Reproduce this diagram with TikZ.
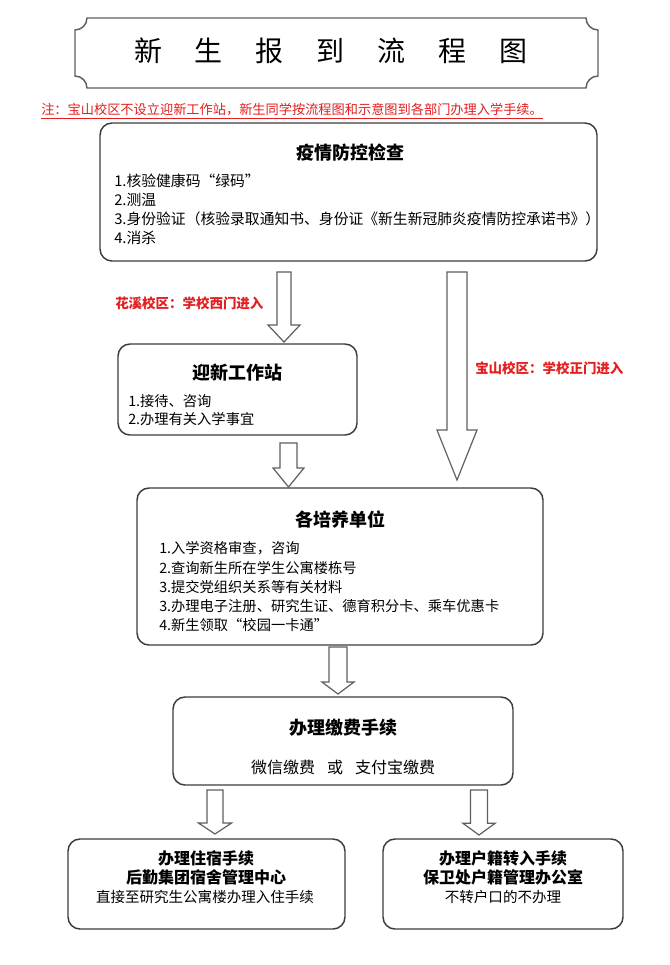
\documentclass[tikz,border=0pt]{standalone}
\usepackage{fontspec}
\setmainfont{Noto Sans CJK SC}
\usetikzlibrary{calc}
\definecolor{edge}{RGB}{60,60,60}
\definecolor{arr}{RGB}{95,95,95}
\definecolor{redtxt}{RGB}{228,30,30}
\newcommand\fs[2]{\fontsize{#1}{#2}\selectfont}
% start coordinate, tip coordinate, half shaft width, half head width, head length
\newcommand\blockarrow[5]{%
  \draw[arrowstyle] let \p1=(#1), \p2=(#2) in
    ({\x1-#3},{\y1}) -- ({\x1+#3},{\y1}) -- ({\x1+#3},{\y2+#5}) -- ({\x1+#4},{\y2+#5})
    -- (\x2,\y2) -- ({\x1-#4},{\y2+#5}) -- ({\x1-#3},{\y2+#5}) -- cycle;}
\tikzset{
  box/.style={draw=edge, line width=1.1pt, rounded corners=9pt, fill=white, inner sep=0pt},
  hd/.style={font=\fs{13.5}{16}\bfseries, inner sep=0pt},
  ln/.style={font=\fs{10.7}{13}, inner sep=0pt, anchor=west},
  lnw/.style={font=\fs{11.1}{13}, inner sep=0pt, anchor=west},
  bl/.style={font=\fs{12}{14}\bfseries, inner sep=0pt},
  nl/.style={font=\fs{10.9}{13}, inner sep=0pt},
  arrowstyle/.style={draw=arr, line width=0.9pt, fill=white, line join=miter},
  redlab/.style={font=\fs{10.1}{12}\bfseries, text=redtxt, inner sep=0pt, anchor=west},
  frame/.style={draw=arr, line width=1.1pt, fill=white}
}
\begin{document}
\begin{tikzpicture}[x=0.75pt, y=-0.75pt]
\fill[white] (0,0) rectangle (669,965);
\useasboundingbox (0,0) rectangle (669,965);

% title plaque with concave corners
\draw[frame] (87,18) -- (586,18) .. controls (586,24.6) and (591.4,30) .. (598,30)
  -- (598,76) .. controls (591.4,76) and (586,81.4) .. (586,88)
  -- (87,88) .. controls (87,81.4) and (81.6,76) .. (75,76)
  -- (75,30) .. controls (81.6,30) and (87,24.6) .. (87,18) -- cycle;
\node[font=\fs{21}{24}, inner sep=0pt] (title) at (331,51)
  {新\hspace{24.75pt}生\hspace{24.75pt}报\hspace{24.75pt}到\hspace{24.75pt}流\hspace{24.75pt}程\hspace{24.75pt}图};

% red note
\node[font=\fs{9.9}{12}, text=redtxt, inner sep=0pt, anchor=west] (note) at (41,110)
  {注：宝山校区不设立迎新工作站，新生同学按流程图和示意图到各部门办理入学手续。};
\draw[redtxt, line width=0.6pt] ([yshift=-1pt]note.south west) -- ([yshift=-1pt]note.south east);

% boxes
\node[box, minimum width=372.75pt, minimum height=103.5pt] (b1) at (348.5,192) {};
\node[box, minimum width=179.25pt, minimum height=68.25pt] (b2) at (237.5,389.5) {};
\node[box, minimum width=304.5pt, minimum height=117.75pt] (b3) at (340,566.5) {};
\node[box, minimum width=255pt, minimum height=66pt] (b4) at (343,741) {};
\node[box, minimum width=207.75pt, minimum height=67.5pt] (b5) at (206.5,884) {};
\node[box, minimum width=180pt, minimum height=67.5pt] (b6) at (503,884) {};

% box 1
\node[hd] (h1) at (350,153) {疫情防控检查};
\node[lnw] (l11) at (114,181) {1.核验健康码“绿码”};
\node[lnw] (l12) at (114,200) {2.测温};
\node[lnw] (l13) at (114,219) {3.身份验证（核验录取通知书、身份证《新生新冠肺炎疫情防控承诺书》）};
\node[lnw] (l14) at (114,238) {4.消杀};

% box 2
\node[hd] (h2) at (237,373) {迎新工作站};
\node[ln] (l21) at (128,401) {1.接待、咨询};
\node[ln] (l22) at (128,419) {2.办理有关入学事宜};

% box 3
\node[hd] (h3) at (340,520) {各培养单位};
\node[ln] (l31) at (159,548) {1.入学资格审查，咨询};
\node[ln] (l32) at (159,568) {2.查询新生所在学生公寓楼栋号};
\node[ln] (l33) at (159,587) {3.提交党组织关系等有关材料};
\node[ln] (l34) at (159,606) {3.办理电子注册、研究生证、德育积分卡、乘车优惠卡};
\node[ln] (l35) at (159,625) {4.新生领取“校园一卡通”};

% box 4
\node[hd] (h4) at (343,728) {办理缴费手续};
\node[font=\fs{12}{14}, inner sep=0pt] (l41) at (343,767) {微信缴费\hspace{9pt}或\hspace{9pt}支付宝缴费};

% box 5
\node[bl] (h5a) at (206,858) {办理住宿手续};
\node[bl] (h5b) at (206,877) {后勤集团宿舍管理中心};
\node[nl] (l51) at (205,897) {直接至研究生公寓楼办理入住手续};

% box 6
\node[bl] (h6a) at (503,858) {办理户籍转入手续};
\node[bl] (h6b) at (503,877) {保卫处户籍管理办公室};
\node[nl] (l61) at (503,897) {不转户口的不办理};

% red labels
\node[redlab] (r1) at (115,303) {花溪校区：学校西门进入};
\node[redlab] (r2) at (475,368) {宝山校区：学校正门进入};

% block arrows
\coordinate (a1s) at (284,272);   \coordinate (a1e) at (284,342);
\coordinate (a2s) at (457,272);   \coordinate (a2e) at (457,480);
\coordinate (a3s) at (288.5,443); \coordinate (a3e) at (288.5,487);
\coordinate (a4s) at (338,647);   \coordinate (a4e) at (338,694);
\coordinate (a5s) at (215,790);   \coordinate (a5e) at (215,834);
\coordinate (a6s) at (479,790);   \coordinate (a6e) at (479,835);
\blockarrow{a1s}{a1e}{5.25pt}{12pt}{12.75pt}
\blockarrow{a2s}{a2e}{7.5pt}{15pt}{37.5pt}
\blockarrow{a3s}{a3e}{6.4pt}{11.6pt}{14.25pt}
\blockarrow{a4s}{a4e}{6.75pt}{12pt}{9pt}
\blockarrow{a5s}{a5e}{6pt}{12.4pt}{8.25pt}
\blockarrow{a6s}{a6e}{6.4pt}{12pt}{8.75pt}
\end{tikzpicture}
\end{document}
